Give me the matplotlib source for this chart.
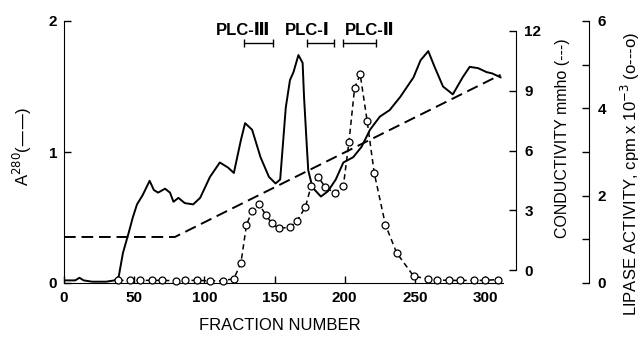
import matplotlib.pyplot as plt
import numpy as np

plt.rcParams['font.family'] = ['Liberation Sans', 'DejaVu Sans']

# A280 (solid line)
frac_a = [0, 8, 11, 14, 20, 30, 36, 39, 42, 46, 49, 52, 56, 61, 64, 67, 72, 75.5, 78, 81.5, 86,
          92, 97, 104, 111, 117, 121, 126, 129, 134, 140, 146, 150.7, 154, 158, 161, 163.5,
          167, 170, 171, 173, 174, 177, 183, 188, 193.6, 199, 206, 212, 218, 225, 232, 239.5,
          249, 254, 259.5, 264, 270, 277, 284, 289, 295, 301, 305, 311]
a280 = [0.02, 0.02, 0.04, 0.02, 0.01, 0.01, 0.02, 0.05, 0.23, 0.38, 0.5, 0.6, 0.67, 0.78,
        0.71, 0.69, 0.72, 0.69, 0.62, 0.65, 0.61, 0.6, 0.65, 0.81, 0.92, 0.88, 0.84, 1.09,
        1.22, 1.17, 0.96, 0.81, 0.76, 0.79, 1.34, 1.55, 1.61, 1.74, 1.68, 1.42, 1.04, 0.86,
        0.73, 0.66, 0.7, 0.79, 0.92, 0.96, 1.04, 1.17, 1.27, 1.32, 1.42, 1.57, 1.7, 1.77,
        1.65, 1.5, 1.44, 1.57, 1.65, 1.64, 1.61, 1.6, 1.57]

# conductivity (dashed line)
frac_c = [0, 79, 311]
cond = [1.66, 1.66, 9.8]

# lipase activity (circles)
frac_l = [38.6, 47, 54, 63, 70, 80, 86, 95, 104, 113, 121, 126, 130, 134, 139, 144, 148,
          153, 161, 166, 172, 176, 181, 186, 193, 199, 203, 207, 211, 216, 221, 229, 237,
          249, 259, 266, 274, 282, 292, 300, 309]
lipase = [0.06, 0.06, 0.06, 0.06, 0.06, 0.05, 0.06, 0.06, 0.05, 0.05, 0.1, 0.45, 1.33,
          1.65, 1.8, 1.55, 1.37, 1.25, 1.28, 1.42, 1.74, 2.22, 2.43, 2.2, 2.06, 2.22, 3.23,
          4.46, 4.78, 3.7, 2.52, 1.33, 0.69, 0.16, 0.09, 0.07, 0.06, 0.06, 0.06, 0.06, 0.08]

# enzyme pools
plc_names = ['PLC-\u2162', 'PLC-\u2160', 'PLC-\u2161']
plc_lo = [128, 173, 199]
plc_hi = [149, 192, 222]
plc_text_x = [127.5, 173, 218]

W, H = 643, 338
fig = plt.figure(figsize=(W / 100, H / 100), dpi=100)
ax = fig.add_axes([64 / W, 55 / H, 452 / W, 262 / H])

ax.plot(frac_a, a280, color='black', lw=1.4, zorder=3)
ax.set_xlim(0, 322)
ax.set_ylim(0, 2)
ax.set_xticks([0, 50, 100, 150, 200, 250, 300])
ax.set_yticks([0, 1, 2])
ax.spines['top'].set_visible(False)
ax.spines['right'].set_visible(False)
ax.spines['bottom'].set_bounds(0, 313)
ax.tick_params(direction='in', length=5, width=1, labelsize=11, pad=5)
ax.tick_params(axis='x', pad=6)
for lab in ax.get_xticklabels() + ax.get_yticklabels():
    lab.set_fontweight('bold')

# pool brackets and names
for lo, hi, name, tx in zip(plc_lo, plc_hi, plc_names, plc_text_x):
    ax.errorbar([(lo + hi) / 2], [1.83], xerr=[(hi - lo) / 2], color='black', lw=1,
                capsize=3, capthick=1, clip_on=False)
    ax.text(tx, 1.87, name, ha='center', va='bottom', fontsize=12, fontweight='bold')

# conductivity axis
axc = ax.twinx()
axc.plot(frac_c, cond, color='black', lw=1.4, dashes=(6, 3))
axc.set_ylim(-0.65, 12.5)
axc.set_yticks([0, 3, 6, 9, 12])
for s in ['top', 'left', 'bottom']:
    axc.spines[s].set_visible(False)
axc.spines['right'].set_bounds(0, 12)
axc.tick_params(direction='in', length=5, width=1, labelsize=11, pad=6)
for lab in axc.get_yticklabels():
    lab.set_fontweight('bold')

# lipase axis, 73 px to the right of the conductivity axis
axl = ax.twinx()
axl.plot(frac_l, lipase, color='black', lw=1.1, dashes=(3.5, 2.5), marker='o', ms=5,
         mfc='white', mec='black', mew=0.9, clip_on=False)
axl.set_ylim(0, 6)
axl.set_yticks([0, 2, 4, 6])
axl.set_yticks([1, 3, 5], minor=True)
for s in ['top', 'left', 'bottom']:
    axl.spines[s].set_visible(False)
axl.spines['right'].set_position(('outward', 73 * 0.72))
axl.tick_params(which='both', direction='in', length=5, width=1, labelsize=11, pad=6)
for lab in axl.get_yticklabels():
    lab.set_fontweight('bold')

fig.text(22 / W, 1 - 146 / H, 'A$^{280}$(\u2014\u2014)', rotation=90, ha='center', va='center',
         fontsize=12)
fig.text(562 / W, 1 - 138 / H, 'CONDUCTIVITY mmho (---)', rotation=90, ha='center',
         va='center', fontsize=11.5)
fig.text(630 / W, 1 - 174 / H, 'LIPASE ACTIVITY, cpm x 10$^{-3}$ (o---o)', rotation=90,
         ha='center', va='center', fontsize=12)
fig.text(280 / W, 1 - 326 / H, 'FRACTION NUMBER', ha='center', va='center', fontsize=12)

fig.savefig('out.png', dpi=100)
